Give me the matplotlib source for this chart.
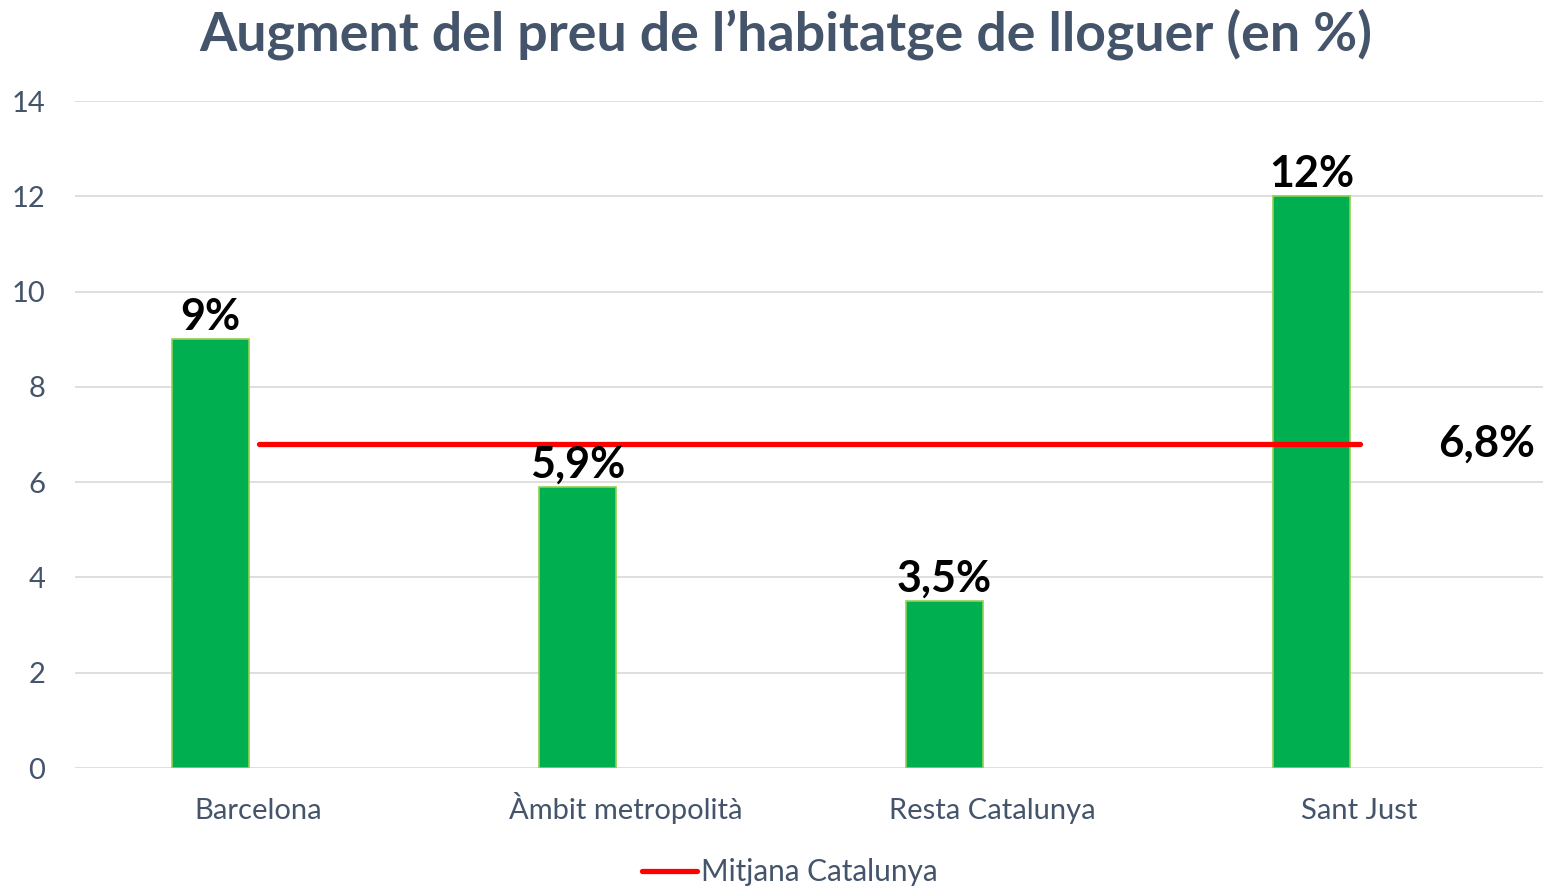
import matplotlib
matplotlib.use("Agg")
import matplotlib.pyplot as plt
import numpy as np

categories = ["Barcelona", "Àmbit metropolità", "Resta Catalunya", "Sant Just"]
values = [9, 5.9, 3.5, 12]
value_labels = ["9%", "5,9%", "3,5%", "12%"]
mitjana = [6.8, 6.8, 6.8, 6.8]
mitjana_label = "6,8%"
title = "Augment del preu de l\u2019habitatge de lloguer (en %)"
legend_label = "Mitjana Catalunya"
yticks = [0, 2, 4, 6, 8, 10, 12, 14]

plt.rcParams['font.family'] = ['Lato', 'DejaVu Sans']
slate = "#44546A"

fig = plt.figure(figsize=(15.43, 8.88), dpi=100)
ax = fig.add_axes([75/1543, 1-768/888, 1468/1543, 667/888])

x = np.arange(len(categories))
bar_w = 77/367
offset = -48/367
ax.bar(x + offset, values, width=bar_w, color="#00B050", edgecolor="#92D050",
       linewidth=1.2, zorder=2)
for xi, v, lab in zip(x, values, value_labels):
    ax.text(xi + offset, v + 0.05, lab, ha="center", va="bottom",
            fontsize=31, fontweight="bold", color="black", zorder=4)

ax.plot(x, mitjana, color="#FF0000", linewidth=3.8, solid_capstyle="round",
        zorder=3, label=legend_label)
ax.text(x[-1] + 0.345, mitjana[-1], mitjana_label, ha="center", va="center",
        fontsize=31.5, fontweight="bold", color="black")

ax.set_xlim(-0.5, 3.5)
ax.set_ylim(0, 14)
ax.set_yticks(yticks)
ax.set_yticklabels([str(t) for t in yticks], fontsize=21, color=slate)
ax.set_xticks(x)
ax.set_xticklabels(categories, fontsize=21, color=slate)
for t in ax.get_xticklabels():
    t.set_va("baseline")
ax.tick_params(axis="both", length=0)
ax.tick_params(axis="y", pad=21.5)
ax.tick_params(axis="x", pad=36.5)
ax.grid(axis="y", color="#D9D9D9", linewidth=1.2, zorder=0)
ax.set_axisbelow(True)
for s in ax.spines.values():
    s.set_visible(False)

fig.text(786/1543, 1-34/888, title, ha="center", va="center", fontsize=38.6,
         fontweight="bold", color=slate)

leg = fig.legend(loc="center", bbox_to_anchor=(790/1543, 1-872/888), frameon=False,
                 fontsize=21.4, handlelength=1.82, handletextpad=0.15)
for t in leg.get_texts():
    t.set_color(slate)

fig.savefig("out.png", dpi=100)
